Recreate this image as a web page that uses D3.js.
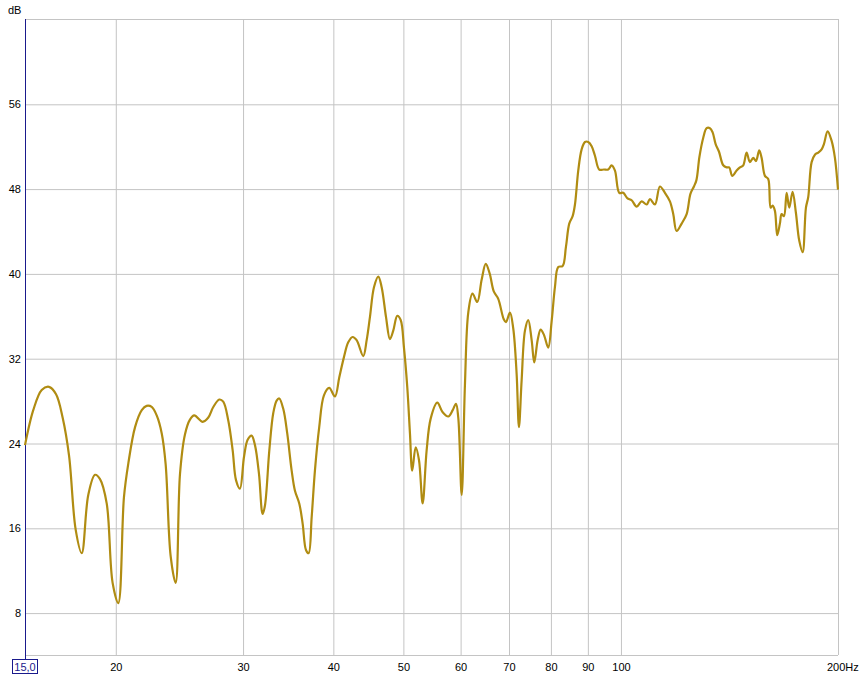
<!DOCTYPE html>
<html><head><meta charset="utf-8">
<script src="https://cdn.jsdelivr.net/npm/d3@7/dist/d3.min.js"></script>
<style>
body{margin:0;background:#fff}
svg text{font-family:"Liberation Sans",Arial,sans-serif;font-size:11px}
</style>
</head><body>
<svg id="chart" width="865" height="677"></svg>
<script>
// Frequency (Hz) and level (dB)
const freqs = [15.00,15.40,15.82,16.19,16.56,16.91,17.26,17.63,17.97,18.35,18.75,19.05,19.46,19.83,20.19,20.56,20.85,21.30,21.76,22.10,
22.46,22.82,23.19,23.48,23.86,24.24,24.58,24.97,25.37,25.72,26.42,26.90,27.33,27.86,28.21,28.67,29.07,29.38,29.75,30.14,
30.49,30.88,31.21,31.61,31.98,32.22,32.67,33.08,33.44,33.72,34.16,34.59,35.08,35.45,35.94,36.33,36.72,37.03,37.39,37.78,
38.30,38.88,39.54,40.27,40.83,41.44,42.01,42.60,43.15,44.07,44.55,45.02,45.60,46.23,46.73,47.38,47.98,48.49,49.11,49.65,
50.17,50.70,51.14,51.51,52.08,52.63,53.25,53.93,54.63,55.79,56.76,57.78,58.60,59.21,59.65,60.30,60.93,61.58,62.41,63.37,
64.26,65.11,65.92,66.79,67.75,68.93,69.43,70.33,71.07,71.84,72.37,72.99,73.77,74.55,75.36,75.99,76.81,77.55,78.37,79.45,
80.32,81.16,82.02,83.18,84.06,84.95,85.87,86.51,87.42,88.37,89.31,90.25,91.24,92.20,93.47,94.88,96.19,97.23,98.27,99.62,
100.89,102.19,103.64,105.30,106.98,108.71,109.86,111.62,113.40,115.23,117.08,118.32,119.60,121.53,123.48,124.98,126.38,127.39,128.62,130.19,
131.60,132.99,134.14,135.43,136.86,138.75,140.26,141.43,142.78,144.80,146.33,147.88,149.48,151.06,152.67,153.99,155.61,156.80,158.46,160.13,
161.37,162.40,163.59,164.79,166.21,167.11,168.36,169.81,171.22,173.08,174.91,176.76,178.69,180.58,181.90,183.88,185.82,187.78,189.84,191.23,
193.50,195.98,198.05,200.00];
const levels = [23.8,27.1,29.0,29.3,28.6,26.4,22.8,15.8,13.6,19.1,21.0,20.6,18.3,10.8,8.9,18.9,22.1,25.5,27.1,27.5,
27.4,26.6,24.9,22.0,13.3,10.8,21.1,24.8,26.2,26.6,26.0,26.4,27.4,28.1,27.9,26.1,23.3,20.5,19.7,22.7,
24.3,24.7,23.8,21.1,17.3,18.1,23.3,26.8,28.0,28.2,27.2,24.9,21.4,19.5,18.3,16.4,13.9,13.6,17.0,21.4,
25.5,28.5,29.2,28.4,30.2,32.1,33.5,34.0,33.7,32.2,33.7,35.9,38.7,39.7,38.7,35.9,33.8,34.6,36.0,35.6,
33.0,29.3,24.9,21.4,23.6,22.4,18.3,23.3,26.3,27.8,26.9,26.5,27.1,27.7,26.4,19.1,29.5,36.3,38.1,37.3,
39.4,40.9,40.0,38.3,37.6,35.7,35.4,36.3,34.8,30.5,25.5,29.9,34.6,35.6,33.7,31.6,33.7,34.7,34.2,33.0,
35.5,38.7,40.6,40.7,42.5,44.7,45.4,46.5,49.7,51.7,52.4,52.4,52.0,51.1,49.8,49.8,49.8,50.2,49.7,47.6,
47.6,47.1,46.9,46.3,46.8,46.5,47.0,46.5,48.2,47.6,46.8,45.6,44.0,44.7,45.6,47.5,48.2,48.8,51.0,52.8,
53.7,53.7,53.3,52.2,51.5,50.2,50.0,50.0,49.2,49.7,50.0,50.2,51.4,50.5,50.9,50.6,51.6,50.9,49.2,48.9,
46.2,46.4,45.9,43.6,44.7,45.6,45.4,47.6,46.2,47.7,45.7,43.1,42.0,46.2,47.2,50.5,51.2,51.4,51.7,52.2,
53.4,52.5,50.9,47.9];
const xTicks = [20,30,40,50,60,70,80,90,100];
const xTickLabels = ["20","30","40","50","60","70","80","90","100"];
const yTicks = [8,16,24,32,40,48,56];
const yTickLabels = ["8","16","24","32","40","48","56"];
const xStartLabel = "15,0";
const xEndLabel = "200Hz";
const yUnitLabel = "dB";

const svg = d3.select("#chart");
const L = 25, R = 838, T = 19, B = 655;
const x = d3.scaleLog().domain([15, 200]).range([L, R]);
const y = d3.scaleLinear().domain([4, 64]).range([B, T]);
const gridColor = "#c4c4c4";
const fontFam = '"Liberation Sans",Arial,sans-serif';

// frame (top, right, bottom)
svg.append("line").attr("x1", L).attr("x2", R).attr("y1", T + 0.5).attr("y2", T + 0.5).attr("stroke", gridColor);
svg.append("line").attr("x1", R + 0.5).attr("x2", R + 0.5).attr("y1", T).attr("y2", B).attr("stroke", gridColor);
svg.append("line").attr("x1", L).attr("x2", R).attr("y1", B + 0.5).attr("y2", B + 0.5).attr("stroke", gridColor);

// x axis with gridlines
const xAxis = d3.axisBottom(x).tickValues(xTicks)
  .tickFormat((d, i) => xTickLabels[i]).tickSize(-(B - T)).tickPadding(6);
const gx = svg.append("g").attr("transform", `translate(0.5,${B})`).call(xAxis);
gx.select(".domain").remove();
gx.selectAll(".tick line").attr("stroke", gridColor);
gx.selectAll(".tick text").attr("fill", "#000").attr("y", 8).attr("dy", "0.71em")
  .style("font-family", fontFam).style("font-size", "11px");

// y axis with gridlines
const yAxis = d3.axisLeft(y).tickValues(yTicks)
  .tickFormat((d, i) => yTickLabels[i]).tickSize(-(R - L)).tickPadding(4);
const gy = svg.append("g").attr("transform", `translate(${L},0.5)`).call(yAxis);
gy.select(".domain").remove();
gy.selectAll(".tick line").attr("stroke", gridColor);
gy.selectAll(".tick text").attr("fill", "#000").attr("x", -4)
  .style("font-family", fontFam).style("font-size", "11px");

// left axis line (navy)
svg.append("line").attr("x1", L + 0.5).attr("x2", L + 0.5).attr("y1", T).attr("y2", 659)
  .attr("stroke", "#1a1a8c").attr("stroke-width", 1);

// start label in box
svg.append("rect").attr("x", 12.5).attr("y", 659.5).attr("width", 25).attr("height", 14)
  .attr("fill", "#fff").attr("stroke", "#1a1a8c");
svg.append("text").attr("x", 25).attr("y", 671).attr("text-anchor", "middle")
  .attr("fill", "#1a1a8c").text(xStartLabel);

// end label
svg.append("text").attr("x", 827).attr("y", 671).attr("fill", "#000").text(xEndLabel);

// unit label
svg.append("text").attr("x", 8).attr("y", 14).attr("fill", "#000").text(yUnitLabel);

// data line
const data = freqs.map((f, i) => [f, levels[i]]);
const gen = d3.line().x(d => x(d[0])).y(d => y(d[1])).curve(d3.curveCatmullRom.alpha(0.5));
svg.append("path").datum(data).attr("d", gen).attr("fill", "none")
  .attr("stroke", "#b08c12").attr("stroke-width", 2.2).attr("stroke-linejoin", "round");
</script>
</body></html>
